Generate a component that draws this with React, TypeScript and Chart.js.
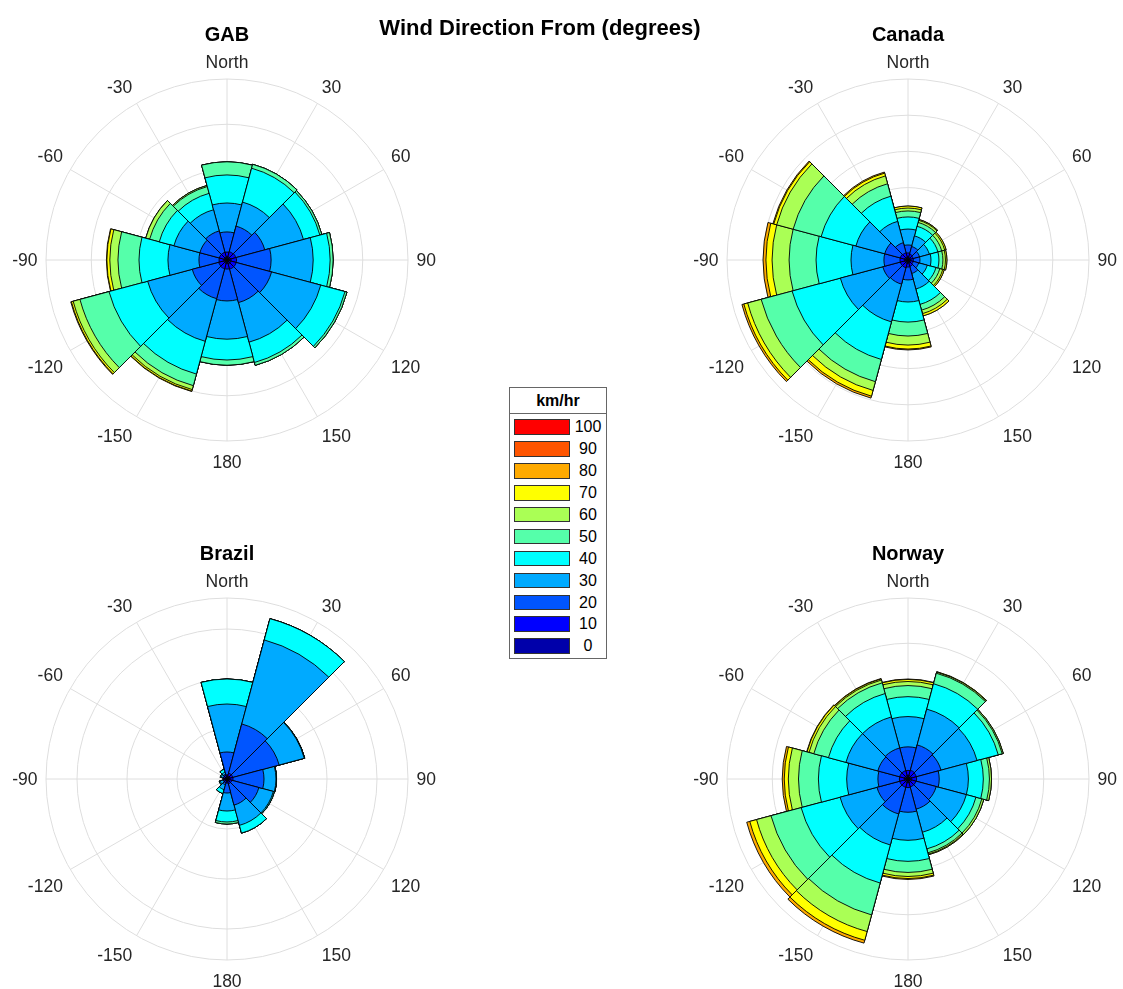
import { useEffect, useRef } from 'react';
import { Chart, registerables } from 'chart.js';

Chart.register(...registerables);

// Speed classes (km/hr, lower edge) and their jet colours
const SPEED_CLASSES = [0, 10, 20, 30, 40, 50, 60, 70, 80, 90, 100];
const SPEED_COLORS = [
  '#0000aa', '#0000ff', '#0055ff', '#00aaff', '#00ffff', '#55ffaa',
  '#aaff55', '#ffff00', '#ffaa00', '#ff5500', '#ff0000',
];

// 12 direction sectors of 30°, clockwise from North
const DIRECTION_LABELS = ['North', '30', '60', '90', '120', '150', '180', '-150', '-120', '-90', '-60', '-30'];

// Cumulative frequency (%) per sector of winds slower than each class edge
// GAB
const GAB_UPTO_10 = [0.13, 0.15, 0.15, 0.18, 0.18, 0.18, 0.15, 0.15, 0.15, 0.13, 0.13, 0.13];
const GAB_UPTO_20 = [0.35, 0.38, 0.40, 0.42, 0.42, 0.42, 0.40, 0.40, 0.38, 0.35, 0.35, 0.35];
const GAB_UPTO_30 = [1.24, 1.55, 1.73, 1.95, 2.04, 1.95, 1.81, 1.77, 1.59, 1.24, 1.24, 1.33];
const GAB_UPTO_40 = [2.52, 2.65, 3.50, 3.81, 4.29, 3.76, 3.50, 3.72, 3.63, 2.61, 2.43, 2.30];
const GAB_UPTO_50 = [3.76, 4.20, 4.25, 4.56, 5.40, 4.69, 4.42, 5.22, 5.40, 3.89, 3.10, 3.05];
const GAB_UPTO_60 = [4.34, 4.38, 4.34, 4.69, 5.49, 4.82, 4.65, 5.75, 6.73, 4.82, 3.54, 3.36];
const GAB_UPTO_70 = [4.34, 4.38, 4.34, 4.69, 5.49, 4.82, 4.65, 5.93, 7.04, 5.18, 3.72, 3.41];
const GAB_UPTO_80 = [4.34, 4.38, 4.34, 4.69, 5.49, 4.82, 4.65, 6.00, 7.12, 5.31, 3.72, 3.41];
const GAB_UPTO_90 = [4.34, 4.38, 4.34, 4.69, 5.49, 4.82, 4.65, 6.02, 7.15, 5.33, 3.72, 3.41];

// Canada
const CAN_UPTO_10 = [0.17, 0.14, 0.14, 0.14, 0.14, 0.17, 0.17, 0.19, 0.19, 0.19, 0.19, 0.17];
const CAN_UPTO_20 = [0.39, 0.33, 0.30, 0.30, 0.30, 0.36, 0.39, 0.44, 0.44, 0.44, 0.44, 0.41];
const CAN_UPTO_30 = [0.83, 0.77, 0.66, 0.66, 0.61, 0.77, 1.10, 1.38, 1.44, 1.33, 1.33, 0.99];
const CAN_UPTO_40 = [1.71, 1.38, 1.22, 1.27, 1.10, 1.66, 2.32, 3.54, 3.87, 3.15, 2.98, 2.21];
const CAN_UPTO_50 = [2.38, 1.93, 1.71, 1.71, 1.60, 2.54, 3.43, 5.69, 6.63, 5.08, 4.97, 3.65];
const CAN_UPTO_60 = [2.71, 2.15, 1.93, 1.93, 1.82, 2.87, 4.20, 6.96, 8.40, 6.57, 6.57, 4.36];
const CAN_UPTO_70 = [2.87, 2.27, 2.10, 2.07, 1.99, 3.07, 4.70, 7.46, 9.17, 7.51, 7.51, 4.81];
const CAN_UPTO_80 = [2.98, 2.32, 2.18, 2.15, 2.07, 3.20, 4.92, 7.79, 9.39, 7.85, 7.68, 4.97];
const CAN_UPTO_90 = [2.98, 2.32, 2.18, 2.15, 2.07, 3.20, 4.97, 7.90, 9.50, 8.01, 7.73, 5.03];

// Brazil
const BRA_UPTO_10 = [0.20, 0.30, 0.30, 0.30, 0.25, 0.25, 0.20, 0.20, 0.20, 0.20, 0.20, 0.20];
const BRA_UPTO_20 = [0.40, 0.60, 0.60, 0.60, 0.50, 0.50, 0.40, 0.40, 0.35, 0.35, 0.35, 0.40];
const BRA_UPTO_30 = [2.7, 5.7, 5.4, 3.7, 3.3, 2.7, 1.4, 0.6, 0.4, 0.35, 0.4, 0.5];
const BRA_UPTO_40 = [7.5, 14.4, 8.0, 4.9, 4.8, 4.8, 3.2, 1.1, 0.7, 0.35, 0.6, 0.7];
const BRA_UPTO_50 = [10.0, 16.6, 8.05, 4.95, 4.9, 5.6, 4.3, 1.5, 0.8, 0.35, 0.7, 1.0];
const BRA_UPTO_60 = [10.0, 16.6, 8.05, 4.95, 4.9, 5.6, 4.5, 1.5, 0.8, 0.35, 0.7, 1.0];
const BRA_UPTO_70 = [10.0, 16.6, 8.05, 4.95, 4.9, 5.6, 4.5, 1.5, 0.8, 0.35, 0.7, 1.0];
const BRA_UPTO_80 = [10.0, 16.6, 8.05, 4.95, 4.9, 5.6, 4.5, 1.5, 0.8, 0.35, 0.7, 1.0];
const BRA_UPTO_90 = [10.0, 16.6, 8.05, 4.95, 4.9, 5.6, 4.5, 1.5, 0.8, 0.35, 0.7, 1.0];

// Norway
const NOR_UPTO_10 = [0.16, 0.16, 0.16, 0.16, 0.16, 0.16, 0.16, 0.16, 0.16, 0.16, 0.16, 0.16];
const NOR_UPTO_20 = [0.38, 0.40, 0.38, 0.38, 0.36, 0.36, 0.38, 0.38, 0.38, 0.38, 0.38, 0.38];
const NOR_UPTO_30 = [1.42, 1.56, 1.51, 1.38, 1.29, 1.38, 1.47, 1.60, 1.42, 1.33, 1.38, 1.42];
const NOR_UPTO_40 = [2.76, 3.20, 3.16, 2.67, 2.67, 2.44, 2.71, 3.02, 3.11, 2.71, 2.84, 2.84];
const NOR_UPTO_50 = [3.64, 4.36, 4.13, 3.33, 3.11, 3.20, 3.64, 4.76, 4.89, 3.96, 3.64, 3.91];
const NOR_UPTO_60 = [4.13, 4.84, 4.31, 3.60, 3.38, 3.38, 4.13, 6.22, 6.27, 4.84, 4.31, 4.40];
const NOR_UPTO_70 = [4.31, 4.89, 4.36, 3.69, 3.47, 3.44, 4.31, 6.98, 6.93, 5.29, 4.53, 4.53];
const NOR_UPTO_80 = [4.40, 4.91, 4.36, 3.69, 3.47, 3.47, 4.40, 7.38, 7.24, 5.47, 4.62, 4.58];
const NOR_UPTO_90 = [4.42, 4.91, 4.36, 3.69, 3.47, 3.47, 4.44, 7.51, 7.38, 5.56, 4.64, 4.60];

// Radial rings (%) of each rose; the last value is the outer edge
const GAB_RINGS = [0, 2, 4, 6, 8];
const CAN_RINGS = [0, 2, 4, 6, 8, 10];
const BRA_RINGS = [0, 5, 10, 15, 18.1];
const NOR_RINGS = [0, 2, 4, 6, 8];

const FONT = '"Liberation Sans", Arial, Helvetica, sans-serif';
const GRID_COLOR = '#dedede';
const RADIUS = 181;
const CANVAS_W = 460;
const CANVAS_H = 500;
const PAD_X = CANVAS_W / 2 - RADIUS;
const PAD_TOP = 260 - RADIUS;

const ROSES = [
  { title: 'GAB', cx: 227, cy: 260, rings: GAB_RINGS, series: [GAB_UPTO_10, GAB_UPTO_20, GAB_UPTO_30, GAB_UPTO_40, GAB_UPTO_50, GAB_UPTO_60, GAB_UPTO_70, GAB_UPTO_80, GAB_UPTO_90] },
  { title: 'Canada', cx: 908, cy: 260, rings: CAN_RINGS, series: [CAN_UPTO_10, CAN_UPTO_20, CAN_UPTO_30, CAN_UPTO_40, CAN_UPTO_50, CAN_UPTO_60, CAN_UPTO_70, CAN_UPTO_80, CAN_UPTO_90] },
  { title: 'Brazil', cx: 227, cy: 779, rings: BRA_RINGS, series: [BRA_UPTO_10, BRA_UPTO_20, BRA_UPTO_30, BRA_UPTO_40, BRA_UPTO_50, BRA_UPTO_60, BRA_UPTO_70, BRA_UPTO_80, BRA_UPTO_90] },
  { title: 'Norway', cx: 908, cy: 779, rings: NOR_RINGS, series: [NOR_UPTO_10, NOR_UPTO_20, NOR_UPTO_30, NOR_UPTO_40, NOR_UPTO_50, NOR_UPTO_60, NOR_UPTO_70, NOR_UPTO_80, NOR_UPTO_90] },
];

// Spokes at every sector centre, compass labels and the rose title
function compassPlugin(title: string) {
  return {
    id: 'compass',
    beforeDatasetsDraw(chart: any) {
      const s = chart.scales.r;
      const ctx = chart.ctx;
      ctx.save();
      ctx.strokeStyle = GRID_COLOR;
      ctx.lineWidth = 1;
      for (let i = 0; i < DIRECTION_LABELS.length; i++) {
        const a = (i * 30 * Math.PI) / 180;
        ctx.beginPath();
        ctx.moveTo(s.xCenter, s.yCenter);
        ctx.lineTo(s.xCenter + s.drawingArea * Math.sin(a), s.yCenter - s.drawingArea * Math.cos(a));
        ctx.stroke();
      }
      ctx.restore();
    },
    afterDraw(chart: any) {
      const s = chart.scales.r;
      const ctx = chart.ctx;
      ctx.save();
      ctx.font = `17.5px ${FONT}`;
      ctx.fillStyle = '#262626';
      ctx.textAlign = 'center';
      ctx.textBaseline = 'middle';
      // each label hangs off an anchor point just outside the rim
      const anchor = s.drawingArea + 8.5;
      DIRECTION_LABELS.forEach((text, i) => {
        const a = (i * 30 * Math.PI) / 180;
        const sin = Math.sin(a);
        const cos = Math.cos(a);
        const w = ctx.measureText(text).width;
        let x = s.xCenter + anchor * sin;
        let y = s.yCenter - anchor * cos + 1.2;
        if (Math.abs(sin) > 0.01) x += Math.sign(sin) * w / 2;
        if (Math.abs(cos) > 0.01) y += cos > 0 ? -9 : 12.3;
        ctx.fillText(text, x, y);
      });
      ctx.font = `bold 20px ${FONT}`;
      ctx.fillStyle = '#000';
      ctx.fillText(title, s.xCenter, s.yCenter - 225);
      ctx.restore();
    },
  };
}

function Rose({ title, cx, cy, rings, series }: { title: string; cx: number; cy: number; rings: number[]; series: number[][] }) {
  const ref = useRef<HTMLCanvasElement>(null);
  useEffect(() => {
    if (!ref.current) return;
    const chart = new Chart(ref.current, {
      type: 'polarArea',
      data: {
        labels: DIRECTION_LABELS,
        datasets: series.map((data, i) => ({
          label: `< ${SPEED_CLASSES[i + 1]} km/hr`,
          data,
          backgroundColor: SPEED_COLORS[i],
          borderColor: '#000',
          borderWidth: 0.9,
        })),
      },
      options: {
        responsive: false,
        animation: false,
        layout: { padding: { left: PAD_X, right: PAD_X, top: PAD_TOP, bottom: CANVAS_H - PAD_TOP - 2 * RADIUS } },
        plugins: { legend: { display: false }, tooltip: { enabled: false }, title: { display: false } },
        scales: {
          r: {
            min: 0,
            max: rings[rings.length - 1],
            startAngle: -15,
            ticks: { display: false },
            afterBuildTicks: (axis: any) => {
              axis.ticks = rings.map((v) => ({ value: v }));
            },
            grid: { circular: true, color: GRID_COLOR, lineWidth: 1 },
            angleLines: { display: false },
            pointLabels: { display: false },
          },
        },
      } as any,
      plugins: [compassPlugin(title)],
    });
    return () => chart.destroy();
  }, []);
  return (
    <canvas
      ref={ref}
      width={CANVAS_W}
      height={CANVAS_H}
      style={{ position: 'absolute', left: cx - CANVAS_W / 2, top: cy - 260, width: CANVAS_W, height: CANVAS_H }}
    />
  );
}

function SpeedLegend() {
  const rows = SPEED_CLASSES.map((v, i) => ({ v, color: SPEED_COLORS[i] })).reverse();
  return (
    <div
      style={{
        position: 'absolute', left: 509, top: 387, width: 98, height: 272,
        border: '1px solid #666', boxSizing: 'border-box', background: '#fff', fontFamily: FONT,
      }}
    >
      <div style={{ position: 'absolute', left: 0, right: 0, top: 0, height: 25, borderBottom: '1px solid #666', textAlign: 'center', fontWeight: 'bold', fontSize: 16, lineHeight: '25px', color: '#000' }}>
        km/hr
      </div>
      {rows.map((r, i) => (
        <div key={r.v}>
          <div style={{ position: 'absolute', left: 4, top: 31.3 + i * 21.9, width: 56, height: 15.6, background: r.color, border: '1px solid #333', boxSizing: 'border-box' }} />
          <div style={{ position: 'absolute', left: 60, width: 36, top: 31.3 + i * 21.9 - 2, height: 20, lineHeight: '20px', textAlign: 'center', fontSize: 16, color: '#000' }}>
            {r.v}
          </div>
        </div>
      ))}
    </div>
  );
}

export default function App() {
  return (
    <div style={{ position: 'absolute', left: 0, top: 0, width: 1123, height: 989, background: '#fff', overflow: 'hidden' }}>
      {ROSES.map((r) => (
        <Rose key={r.title} {...r} />
      ))}
      <div style={{ position: 'absolute', left: 340, width: 400, top: 15, textAlign: 'center', fontFamily: FONT, fontWeight: 'bold', fontSize: 22, lineHeight: '25px', color: '#000' }}>
        Wind Direction From (degrees)
      </div>
      <SpeedLegend />
    </div>
  );
}
